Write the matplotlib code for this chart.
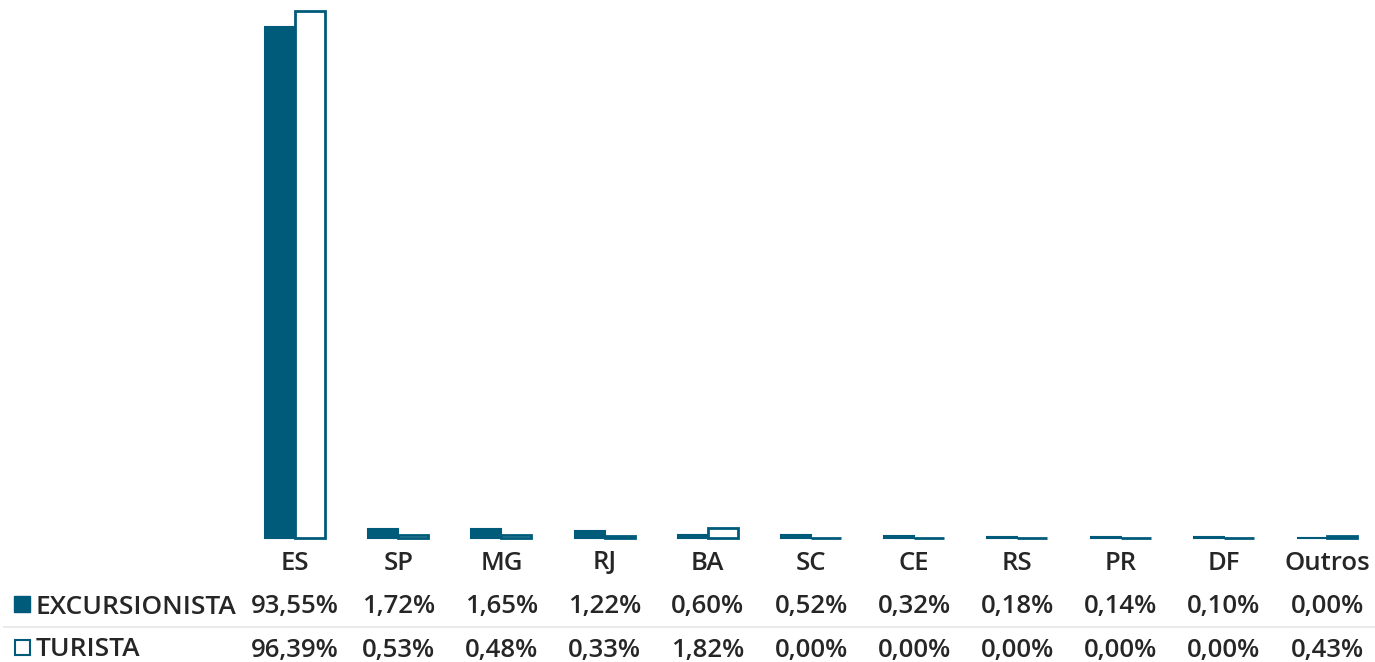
import numpy as np
import matplotlib.pyplot as plt
from matplotlib.patches import Rectangle
from matplotlib.lines import Line2D
import matplotlib.transforms as mtransforms

categories = ["ES", "SP", "MG", "RJ", "BA", "SC", "CE", "RS", "PR", "DF", "Outros"]
excursionista = [93.55, 1.72, 1.65, 1.22, 0.60, 0.52, 0.32, 0.18, 0.14, 0.10, 0.00]
turista = [96.39, 0.53, 0.48, 0.33, 1.82, 0.00, 0.00, 0.00, 0.00, 0.00, 0.43]
series_names = ["EXCURSIONISTA", "TURISTA"]

TEAL = "#005b7a"
TXT = "#262626"
plt.rcParams["font.family"] = ["Open Sans", "DejaVu Sans"]

W, H = 1375, 662
fig = plt.figure(figsize=(W / 100, H / 100), dpi=100)

# axes: category 0 centre at x=295 px, spacing ~103.2 px; baseline y=538, top y=11
step = 103.2
x_left = 295 - step / 2
ax = fig.add_axes([x_left / W, 1 - 538 / H, step * 11 / W, (538 - 11) / H])
ax.set_xlim(-0.5, len(categories) - 0.5)
ax.set_ylim(0, max(turista))
ax.axis("off")

x = np.arange(len(categories))
bw = 0.29
ax.bar(x - bw / 2, excursionista, bw, color=TEAL, edgecolor=TEAL, linewidth=1.5, clip_on=False)
ax.bar(x + bw / 2, turista, bw, color="white", edgecolor=TEAL, linewidth=2, clip_on=False)

# category labels and data table
trans = mtransforms.blended_transform_factory(ax.transData, fig.transFigure)
for i, cat in enumerate(categories):
    ax.text(i, 1 - 563 / H, cat, transform=trans, ha="center", va="center",
            fontsize=18.5, color=TXT, fontweight="semibold")
    ax.text(i, 1 - 607 / H, f"{excursionista[i]:.2f}%".replace(".", ","), transform=trans,
            ha="center", va="center", fontsize=18.5, color=TXT, fontweight="semibold")
    ax.text(i, 1 - 650 / H, f"{turista[i]:.2f}%".replace(".", ","), transform=trans,
            ha="center", va="center", fontsize=18.5, color=TXT, fontweight="semibold")

# legend keys in table
fig.patches.append(Rectangle((14 / W, 1 - 612 / H), 16 / W, 16 / H, transform=fig.transFigure,
                             facecolor=TEAL, edgecolor=TEAL, linewidth=1))
fig.patches.append(Rectangle((15 / W, 1 - 655 / H), 15 / W, 15 / H, transform=fig.transFigure,
                             facecolor="white", edgecolor=TEAL, linewidth=1.5))
fig.text(36 / W, 1 - 607 / H, series_names[0], ha="left", va="center", fontsize=19,
         color=TXT, fontweight="semibold")
fig.text(36 / W, 1 - 650 / H, series_names[1], ha="left", va="center", fontsize=19,
         color=TXT, fontweight="semibold")

fig.lines.append(Line2D([4 / W, 1], [1 - 627 / H, 1 - 627 / H], transform=fig.transFigure,
                        color="#e6e6e6", linewidth=1.2))

fig.savefig("out.png", dpi=100, facecolor="white")
